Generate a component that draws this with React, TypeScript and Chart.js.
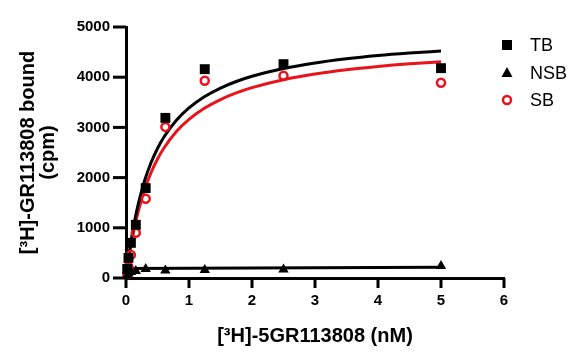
import React, { useEffect, useRef } from "react";
import { Chart, registerables } from "chart.js";

Chart.register(...registerables);

// Measured concentrations (nM)
const concentrations = [0.0195, 0.039, 0.078, 0.156, 0.3125, 0.625, 1.25, 2.5, 5];
// Point values (cpm)
const tbValues = [180, 400, 700, 1060, 1790, 3190, 4160, 4260, 4180];
const nsbValues = [50, 90, 120, 140, 180, 150, 160, 170, 240];
const sbValues = [80, 220, 460, 900, 1580, 3010, 3930, 4030, 3890];

// Fitted curves
const fitX = [0, 0.05, 0.1, 0.15, 0.2, 0.3, 0.4, 0.5, 0.6, 0.8, 1, 1.25, 1.5, 1.75, 2, 2.5, 3, 3.5, 4, 4.5, 5];
const tbFit = [0, 487, 887, 1221, 1503, 1957, 2305, 2580, 2803, 3142, 3388, 3615, 3784, 3914, 4018, 4173, 4283, 4366, 4430, 4480, 4522];
const sbFit = [0, 431, 790, 1094, 1354, 1778, 2107, 2370, 2585, 2917, 3160, 3386, 3555, 3687, 3792, 3950, 4063, 4148, 4213, 4266, 4309];
const nsbFitX = [0, 5];
const nsbFit = [190, 215];

// Axis ticks
const xTickValues = [0, 1, 2, 3, 4, 5, 6];
const yTickValues = [0, 1000, 2000, 3000, 4000, 5000];

const legendLabels = ["TB", "NSB", "SB"];
const xTitle = "[³H]-5GR113808 (nM)";
const yTitle = ["[³H]-GR113808 bound", "(cpm)"];

const FONT = "'Liberation Sans', Arial, Helvetica, sans-serif";
const RED = "#e8131b";

const pts = (xs: number[], ys: number[]) => xs.map((x, i) => ({ x, y: ys[i] }));

const tickPlugin = {
  id: "axisTickMarks",
  afterDraw(chart: any) {
    const ctx = chart.ctx as CanvasRenderingContext2D;
    const xs = chart.scales.x;
    const ys = chart.scales.y;
    const left = xs.left;
    const bottom = ys.bottom;
    ctx.save();
    ctx.fillStyle = "#000";
    xTickValues.forEach((v) => {
      const px = xs.getPixelForValue(v);
      ctx.fillRect(px - 1.5, bottom, 3, 10);
    });
    yTickValues.forEach((v) => {
      const py = ys.getPixelForValue(v);
      ctx.fillRect(left - 13, py - 1.5, 13, 3);
    });
    ctx.restore();
  },
};

const legendPlugin = {
  id: "customLegend",
  afterDraw(chart: any) {
    const ctx = chart.ctx as CanvasRenderingContext2D;
    const mx = 507;
    const tx = 530;
    const rows = [45, 73, 100];
    ctx.save();
    ctx.fillStyle = "#000";
    ctx.fillRect(mx - 5, rows[0] - 5, 10, 10);
    ctx.beginPath();
    ctx.moveTo(mx, rows[1] - 6);
    ctx.lineTo(mx + 5.5, rows[1] + 4);
    ctx.lineTo(mx - 5.5, rows[1] + 4);
    ctx.closePath();
    ctx.fill();
    ctx.beginPath();
    ctx.arc(mx, rows[2], 4, 0, Math.PI * 2);
    ctx.strokeStyle = RED;
    ctx.lineWidth = 2.5;
    ctx.stroke();
    ctx.fillStyle = "#000";
    ctx.font = `18px ${FONT}`;
    ctx.textBaseline = "middle";
    ctx.textAlign = "left";
    legendLabels.forEach((l, i) => ctx.fillText(l, tx, rows[i] + 1));
    ctx.restore();
  },
};

export default function App() {
  const ref = useRef<HTMLCanvasElement>(null);

  useEffect(() => {
    document.body.style.margin = "0";
    const canvas = ref.current!;
    const chart = new Chart(canvas, {
      type: "scatter",
      data: {
        datasets: [
          { label: "TB", data: pts(concentrations, tbValues), pointStyle: "rect", pointRadius: 7, backgroundColor: "#000", borderColor: "#000", borderWidth: 0, showLine: false },
          { label: "NSB", data: pts(concentrations, nsbValues), pointStyle: "triangle", pointRadius: 6, backgroundColor: "#000", borderColor: "#000", borderWidth: 0, showLine: false },
          { label: "SB", data: pts(concentrations, sbValues), pointStyle: "circle", pointRadius: 4, backgroundColor: "rgba(0,0,0,0)", borderColor: RED, borderWidth: 2.5, showLine: false },
          { label: "TB fit", data: pts(fitX, tbFit), showLine: true, pointRadius: 0, borderColor: "#000", borderWidth: 3, cubicInterpolationMode: "monotone" },
          { label: "SB fit", data: pts(fitX, sbFit), showLine: true, pointRadius: 0, borderColor: RED, borderWidth: 3, cubicInterpolationMode: "monotone" },
          { label: "NSB fit", data: pts(nsbFitX, nsbFit), showLine: true, pointRadius: 0, borderColor: "#000", borderWidth: 3 },
        ] as any,
      },
      options: {
        responsive: false,
        animation: false,
        clip: false as any,
        layout: { padding: { left: 0, top: 27, right: 81, bottom: 0 } },
        plugins: { legend: { display: false }, tooltip: { enabled: false } },
        scales: {
          x: {
            type: "linear",
            min: 0,
            max: 6,
            afterFit: (s: any) => { s.height = 82; },
            afterBuildTicks: (s: any) => { s.ticks = xTickValues.map((v) => ({ value: v })); },
            ticks: { color: "#000", padding: 14, font: { family: FONT, size: 15, weight: "bold" }, callback: (v: any) => String(v) },
            grid: { display: false, drawTicks: false },
            border: { display: true, color: "#000", width: 3 },
            title: { display: true, text: xTitle, color: "#000", font: { family: FONT, size: 20, weight: "bold", lineHeight: 1 }, padding: { top: 0, bottom: 14 } },
          },
          y: {
            type: "linear",
            min: 0,
            max: 5000,
            afterFit: (s: any) => { s.width = 126; },
            afterBuildTicks: (s: any) => { s.ticks = yTickValues.map((v) => ({ value: v })); },
            ticks: { color: "#000", padding: 16, font: { family: FONT, size: 15, weight: "bold" }, callback: (v: any) => String(v) },
            grid: { display: false, drawTicks: false },
            border: { display: true, color: "#000", width: 3 },
            title: { display: true, text: yTitle, color: "#000", font: { family: FONT, size: 20, weight: "bold", lineHeight: 1 }, padding: { top: 18, bottom: 0 } },
          },
        },
      },
      plugins: [tickPlugin, legendPlugin],
    });
    return () => chart.destroy();
  }, []);

  return (
    <div style={{ width: 585, height: 360, background: "#fff" }}>
      <canvas ref={ref} width={585} height={360} />
    </div>
  );
}
